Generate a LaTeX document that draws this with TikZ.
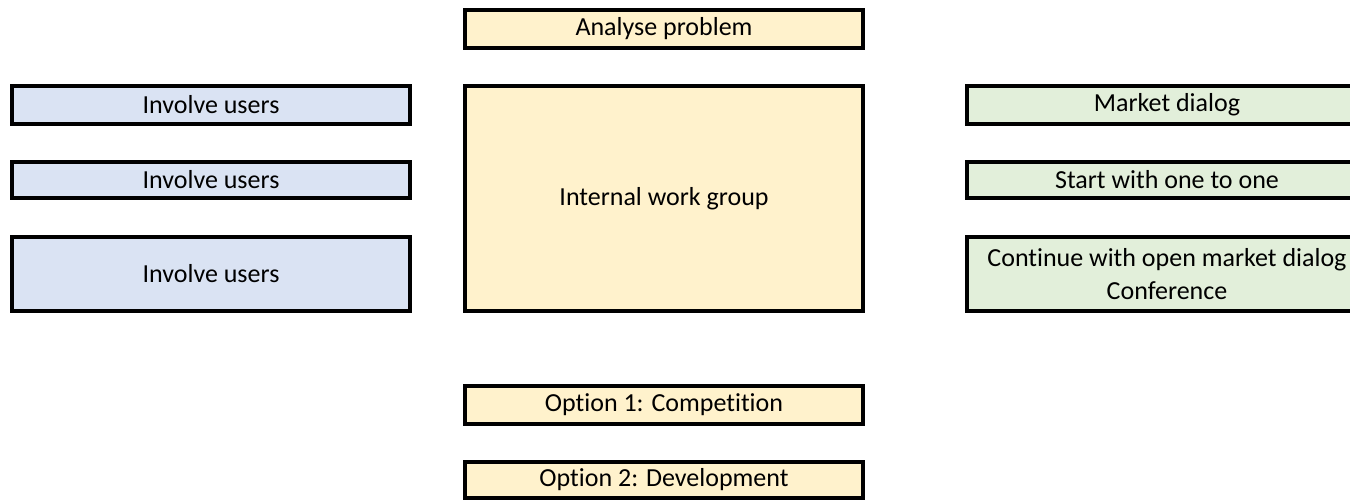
\documentclass[tikz,border=0pt]{standalone}
\usepackage{fontspec}
\setmainfont{Carlito}[Ligatures=NoCommon]
\usepackage{tikz}
\usepackage{xcolor}

\definecolor{usersblue}{RGB}{218,227,243}
\definecolor{groupyellow}{RGB}{255,242,204}
\definecolor{marketgreen}{RGB}{226,239,218}

\tikzset{
  cell/.style={draw, line width=3pt, inner sep=0pt, align=center,
    font=\fontsize{19.5}{25}\selectfont},
  users/.style={cell, fill=usersblue, minimum width=298.5pt},
  group/.style={cell, fill=groupyellow, minimum width=298.5pt},
  market/.style={cell, fill=marketgreen, minimum width=300pt}
}

\begin{document}
\begin{tikzpicture}[x=0.75pt,y=0.75pt,yscale=-1,xscale=1]
\useasboundingbox (0,0) rectangle (1350,501);
\clip (0,0) rectangle (1350,501);

% Middle column
\node [group, minimum height=28.5pt] (analyse) at (664,29) {Analyse problem};
\node [group, minimum height=168.75pt] (workgroup) at (664,198.5) {Internal work group};
\node [group, minimum height=28.5pt] (option1) at (664,405) {Option 1: Competition};
\node [group, minimum height=27pt] (option2) at (664,480) {Option 2: Development};

% Left column
\node [users, minimum height=28.5pt] (users1) at (211,105) {Involve users};
\node [users, minimum height=27pt] (users2) at (211,180) {Involve users};
\node [users, minimum height=55.5pt] (users3) at (211,274) {Involve users};

% Right column (runs off the page)
\node [market, minimum height=28.5pt] (dialog) at (1167,105) {Market dialog};
\node [market, minimum height=27pt] (onetoone) at (1167,180) {Start with one to one};
\node [market, minimum height=55.5pt] (openmarket) at (1167,274) {Continue with open market dialog\\Conference};

\end{tikzpicture}
\end{document}
